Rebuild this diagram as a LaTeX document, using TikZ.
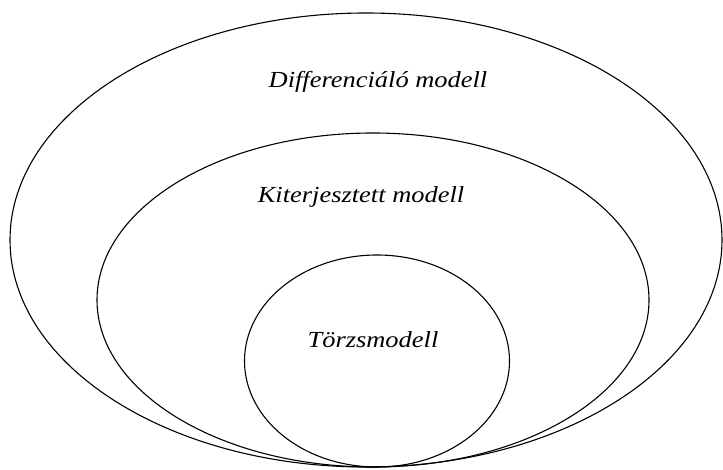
\documentclass[tikz,border=0pt]{standalone}
\usepackage{fontspec}
\setmainfont{Liberation Serif}
\usetikzlibrary{shapes.geometric, positioning}
\tikzstyle{ring} = [ellipse, draw, line width=1.1pt, inner sep=0pt]
\tikzstyle{modeltext} = [font=\fontsize{23}{26}\selectfont\itshape, inner sep=0pt]
\newcommand{\widetext}[1]{\scalebox{1.15}[1]{#1}}

\begin{document}
\begin{tikzpicture}[x=1pt, y=-1pt]
    \useasboundingbox (0,0) rectangle (723,470);

    % Place ellipses
	\node [ring, minimum width=712pt, minimum height=454pt] (Differencialo) at (366,240) {};
	\node [ring, minimum width=552pt, minimum height=334pt] (Kiterjesztett) at (373,300) {};
	\node [ring, minimum width=265pt, minimum height=212pt] (Torzs) at (377,361) {};

    % Place texts
	\node [modeltext] (DifferencialoText) at (378,82) {\widetext{Differenciáló modell}};
	\node [modeltext] (KiterjesztettText) at (361,197) {\widetext{Kiterjesztett modell}};
	\node [modeltext] (TorzsText) at (373,340) {\widetext{Törzsmodell}};

\end{tikzpicture}
\end{document}
